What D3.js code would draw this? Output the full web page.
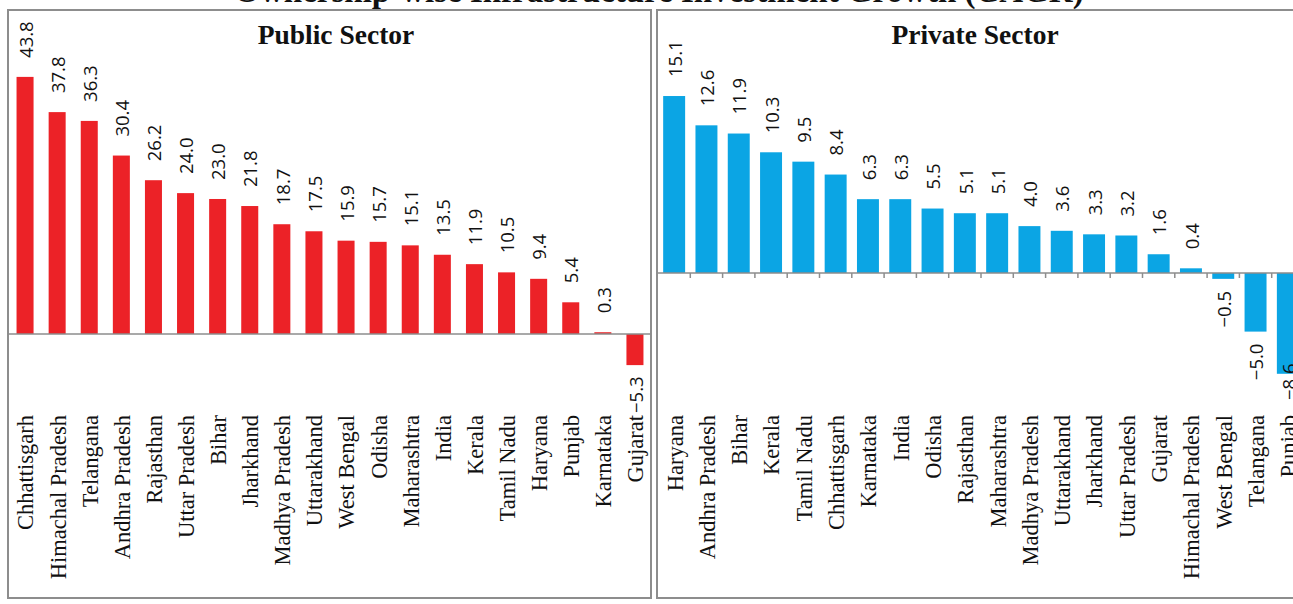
<!DOCTYPE html>
<html>
<head>
<meta charset="utf-8">
<script src="https://cdn.jsdelivr.net/npm/d3@7"></script>
<style>
  html, body { margin: 0; padding: 0; background: #fff; }
  svg { display: block; }
</style>
</head>
<body>
<svg id="chart" width="1293" height="604"></svg>
<script>
// Growth in infrastructure investment by state, split by ownership (per cent)
const publicStates = ["Chhattisgarh", "Himachal Pradesh", "Telangana", "Andhra Pradesh", "Rajasthan",
  "Uttar Pradesh", "Bihar", "Jharkhand", "Madhya Pradesh", "Uttarakhand", "West Bengal", "Odisha",
  "Maharashtra", "India", "Kerala", "Tamil Nadu", "Haryana", "Punjab", "Karnataka", "Gujarat"];
const publicGrowth = [43.8, 37.8, 36.3, 30.4, 26.2, 24.0, 23.0, 21.8, 18.7, 17.5, 15.9, 15.7,
  15.1, 13.5, 11.9, 10.5, 9.4, 5.4, 0.3, -5.3];

const privateStates = ["Haryana", "Andhra Pradesh", "Bihar", "Kerala", "Tamil Nadu", "Chhattisgarh",
  "Karnataka", "India", "Odisha", "Rajasthan", "Maharashtra", "Madhya Pradesh", "Uttarakhand",
  "Jharkhand", "Uttar Pradesh", "Gujarat", "Himachal Pradesh", "West Bengal", "Telangana", "Punjab"];
const privateGrowth = [15.1, 12.6, 11.9, 10.3, 9.5, 8.4, 6.3, 6.3, 5.5, 5.1, 5.1, 4.0, 3.6,
  3.3, 3.2, 1.6, 0.4, -0.5, -5.0, -8.6];

const chartTitle = "Ownership-wise Infrastructure Investment Growth (CAGR)";
const panelTitles = ["Public Sector", "Private Sector"];

const svg = d3.select("#chart");
const SERIF = "'Liberation Serif', 'Times New Roman', serif";
const SANS = "'Open Sans', 'Noto Sans', sans-serif";
const FRAME = "#8d8d8d";
const fmt = d3.format(".1f");

// overall title (mostly above the visible area)
svg.append("text")
  .attr("x", 659).attr("y", 2)
  .attr("text-anchor", "middle")
  .attr("font-family", SERIF).attr("font-weight", "bold").attr("font-size", 33)
  .attr("fill", "#111")
  .text(chartTitle);

function drawPanel(o) {
  const g = svg.append("g");

  // panel frame
  g.append("rect")
    .attr("x", o.left).attr("y", 10)
    .attr("width", o.right - o.left).attr("height", 588)
    .attr("fill", "none").attr("stroke", FRAME).attr("stroke-width", 2);

  const x = d3.scaleBand()
    .domain(o.cats)
    .range([o.bandStart, o.bandEnd])
    .paddingInner(o.padIn).paddingOuter(o.padIn / 2);

  const y = d3.scaleLinear().domain(o.yDomain).range(o.yRange);
  const y0 = y(0);

  // panel heading
  g.append("text")
    .attr("x", o.titleX).attr("y", 44)
    .attr("text-anchor", "middle")
    .attr("font-family", SERIF).attr("font-weight", "bold").attr("font-size", 27.5)
    .attr("fill", "#111")
    .text(o.title);

  // bars
  g.selectAll("rect.bar")
    .data(o.vals)
    .join("rect")
    .attr("class", "bar")
    .attr("x", (d, i) => x(o.cats[i]))
    .attr("width", x.bandwidth())
    .attr("y", d => Math.min(y(d), y0))
    .attr("height", d => Math.abs(y(d) - y0))
    .attr("fill", o.color);

  // zero line
  g.append("line")
    .attr("x1", o.left).attr("x2", o.right)
    .attr("y1", y0).attr("y2", y0)
    .attr("stroke", FRAME).attr("stroke-width", 1.5);

  // tick marks between categories
  if (o.ticks) {
    const step = x.step();
    const bounds = o.cats.slice(1).map(c => x(c) - step * o.padIn / 2);
    g.selectAll("line.tick")
      .data(bounds)
      .join("line")
      .attr("class", "tick")
      .attr("x1", d => d).attr("x2", d => d)
      .attr("y1", y0).attr("y2", y0 + 5)
      .attr("stroke", FRAME).attr("stroke-width", 1.5);
  }

  // value labels
  const labels = g.selectAll("text.val")
    .data(o.vals)
    .join("text")
    .attr("class", "val")
    .attr("font-family", SANS).attr("font-size", 18.5)
    .attr("fill", "#111")
    .attr("dy", "0.36em")
    .text(d => fmt(d));

  labels.each(function (d, i) {
    const t = d3.select(this);
    const cx = x(o.cats[i]) + x.bandwidth() / 2 + 1;
    const len = this.getComputedTextLength();
    let start;
    if (d >= 0) {
      start = y(d) - 19;
    } else {
      start = Math.min(y(d) + 12 + len, o.negLimit);
    }
    t.attr("transform", `translate(${cx},${start}) rotate(-90)`)
      .attr("text-anchor", "start");
  });

  // category labels
  g.selectAll("text.cat")
    .data(o.cats)
    .join("text")
    .attr("class", "cat")
    .attr("font-family", SERIF).attr("font-size", 22.5)
    .attr("fill", "#111")
    .attr("text-anchor", "end")
    .attr("dy", "0.33em")
    .attr("transform", d => `translate(${x(d) + x.bandwidth() / 2 + 1},415) rotate(-90)`)
    .text(d => d);
}

drawPanel({
  title: panelTitles[0], titleX: 336,
  cats: publicStates, vals: publicGrowth, color: "#ec2227",
  left: 8, right: 651, bandStart: 9, bandEnd: 651, padIn: 0.47,
  yDomain: [-10, 50], yRange: [392.7, 40.5],
  ticks: false, negLimit: 413
});

drawPanel({
  title: panelTitles[1], titleX: 975,
  cats: privateStates, vals: privateGrowth, color: "#0ba5e4",
  left: 657, right: 1310, bandStart: 658, bandEnd: 1304, padIn: 0.32,
  yDomain: [-10, 20], yRange: [390.2, 38.6],
  ticks: true, negLimit: 400
});
</script>
</body>
</html>
